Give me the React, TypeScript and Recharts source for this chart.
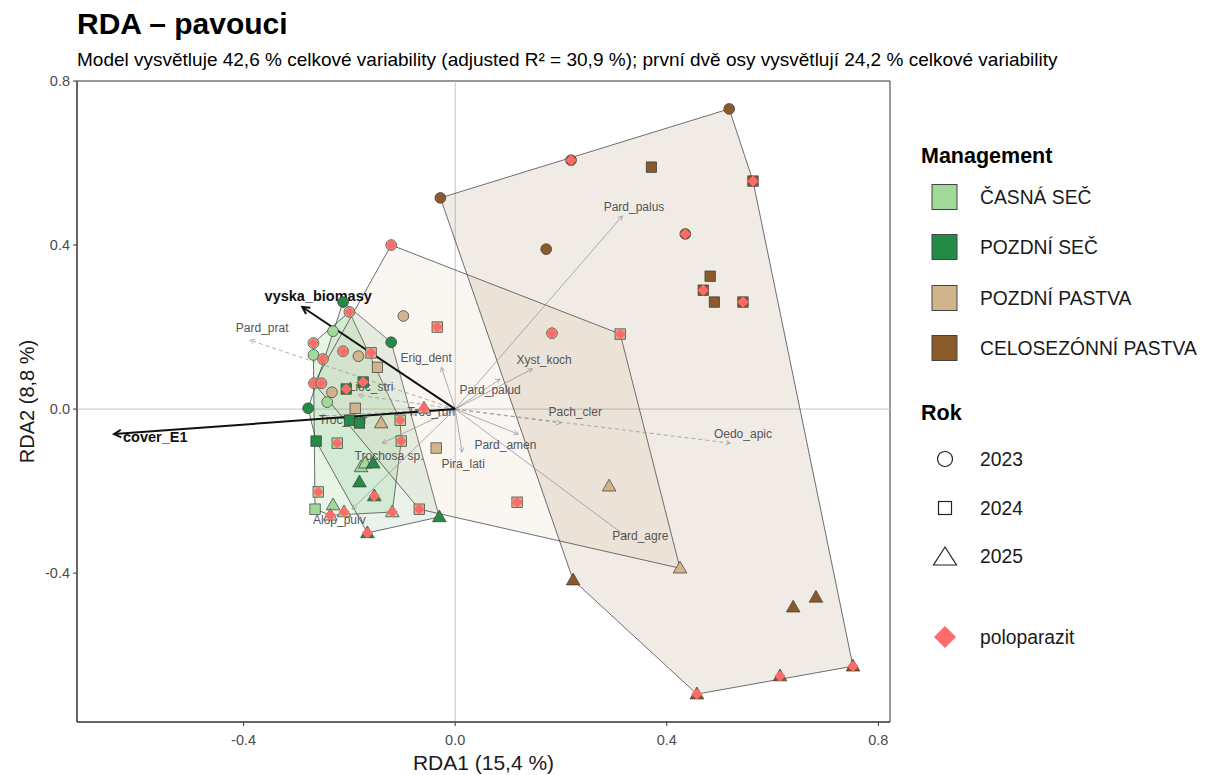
import React from 'react';
import { ScatterChart, Scatter, XAxis, YAxis, ReferenceLine, ReferenceArea } from 'recharts';

const xDomain = [-0.715, 0.822];
const yDomain = [-0.763, 0.8];
const xTicks = [-0.4, 0, 0.4, 0.8];
const yTicks = [-0.4, 0, 0.4, 0.8];

const managementNames = ['ČASNÁ SEČ', 'POZDNÍ SEČ', 'POZDNÍ PASTVA', 'CELOSEZÓNNÍ PASTVA'];
const managementColors = ['#a1d99b', '#238b45', '#d2b48c', '#8b5a2b'];
const hullOpacity = [0.25, 0.1, 0.12, 0.12];
const yearNames = ['2023', '2024', '2025'];
const paraColor = '#ff6b6b';

// plochy: [RDA1, RDA2, rok, poloparazit]
const casnaSec = [
  [-0.231, 0.19, 2023, 0],
  [-0.268, 0.132, 2023, 0],
  [-0.242, 0.017, 2023, 0],
  [-0.2, 0.237, 2023, 1],
  [-0.268, 0.161, 2023, 1],
  [-0.25, 0.122, 2023, 1],
  [-0.265, -0.244, 2024, 0],
  [-0.223, -0.083, 2024, 1],
  [-0.259, -0.202, 2024, 1],
  [-0.102, -0.078, 2024, 1],
  [-0.104, -0.027, 2024, 1],
  [-0.178, -0.141, 2025, 0],
  [-0.17, -0.132, 2025, 0],
  [-0.231, -0.234, 2025, 0],
  [-0.236, -0.259, 2025, 1],
  [-0.21, -0.251, 2025, 1],
  [-0.119, -0.251, 2025, 1],
];

const pozdniSec = [
  [-0.212, 0.261, 2023, 0],
  [-0.121, 0.163, 2023, 0],
  [-0.278, 0.002, 2023, 0],
  [-0.2, -0.027, 2024, 0],
  [-0.181, -0.034, 2024, 0],
  [-0.263, -0.078, 2024, 0],
  [-0.206, 0.049, 2024, 1],
  [-0.174, 0.066, 2024, 1],
  [-0.155, -0.132, 2025, 0],
  [-0.181, -0.178, 2025, 0],
  [-0.03, -0.263, 2025, 0],
  [-0.166, -0.302, 2025, 1],
  [-0.153, -0.212, 2025, 1],
];

const pozdniPastva = [
  [-0.098, 0.227, 2023, 0],
  [-0.183, 0.129, 2023, 0],
  [-0.233, 0.041, 2023, 0],
  [-0.121, 0.4, 2023, 1],
  [0.183, 0.185, 2023, 1],
  [-0.267, 0.063, 2023, 1],
  [-0.253, 0.063, 2023, 1],
  [-0.212, 0.141, 2023, 1],
  [-0.147, 0.102, 2024, 0],
  [-0.189, 0.002, 2024, 0],
  [-0.036, -0.095, 2024, 0],
  [-0.034, 0.2, 2024, 1],
  [0.312, 0.183, 2024, 1],
  [0.117, -0.227, 2024, 1],
  [-0.159, 0.137, 2024, 1],
  [-0.068, -0.244, 2024, 1],
  [-0.14, -0.034, 2025, 0],
  [0.291, -0.188, 2025, 0],
  [0.425, -0.388, 2025, 0],
  [-0.059, 0.002, 2025, 1],
];

const celosezonniPastva = [
  [0.518, 0.732, 2023, 0],
  [-0.028, 0.515, 2023, 0],
  [0.172, 0.39, 2023, 0],
  [0.219, 0.607, 2023, 1],
  [0.435, 0.427, 2023, 1],
  [0.371, 0.59, 2024, 0],
  [0.482, 0.324, 2024, 0],
  [0.49, 0.261, 2024, 0],
  [0.469, 0.29, 2024, 1],
  [0.544, 0.261, 2024, 1],
  [0.563, 0.556, 2024, 1],
  [0.223, -0.417, 2025, 0],
  [0.639, -0.483, 2025, 0],
  [0.682, -0.459, 2025, 0],
  [0.457, -0.695, 2025, 1],
  [0.614, -0.651, 2025, 1],
  [0.752, -0.627, 2025, 1],
];

// druhy: [název, RDA1, RDA2, popisek RDA1, popisek RDA2, čárkovaně]
const speciesScores: [string, number, number, number, number, number][] = [
  ['Pard_palus', 0.316, 0.471, 0.338, 0.493, 0],
  ['Pard_prat', -0.388, 0.168, -0.365, 0.198, 1],
  ['Erig_dent', -0.026, 0.102, -0.055, 0.124, 0],
  ['Xyst_koch', 0.146, 0.098, 0.168, 0.12, 0],
  ['Pard_palud', 0.085, 0.073, 0.066, 0.046, 0],
  ['Pach_cler', 0.2, -0.034, 0.227, -0.007, 1],
  ['Oedo_apic', 0.52, -0.083, 0.544, -0.061, 1],
  ['Pard_amen', 0.119, -0.061, 0.095, -0.088, 0],
  ['Pira_lati', 0.013, -0.105, 0.015, -0.134, 0],
  ['Pard_agre', 0.325, -0.312, 0.35, -0.31, 0],
  ['Trochosa sp.', -0.138, -0.083, -0.125, -0.115, 0],
  ['Alop_pulv', -0.195, -0.244, -0.219, -0.271, 0],
  ['Lioc_stri', -0.183, 0.034, -0.159, 0.054, 1],
  ['Troc_ruri', -0.085, -0.01, -0.045, -0.007, 0],
  ['Troc_terr', -0.255, -0.017, -0.212, -0.027, 1],
];

// proměnné prostředí: [název, RDA1, RDA2, popisek RDA1, popisek RDA2]
const envScores: [string, number, number, number, number][] = [
  ['vyska_biomasy', -0.289, 0.249, -0.259, 0.276],
  ['cover_E1', -0.645, -0.061, -0.567, -0.068],
];

const groups = [casnaSec, pozdniSec, pozdniPastva, celosezonniPastva].map((rows) =>
  rows.map(([x, y, rok, para]) => ({ x, y, rok, para }))
);

type P = { x: number; y: number };
function convexHull(pts: P[]) {
  const p = [...pts].sort((a, b) => a.x - b.x || a.y - b.y);
  const cross = (o: P, a: P, b: P) => (a.x - o.x) * (b.y - o.y) - (a.y - o.y) * (b.x - o.x);
  const lower: P[] = [];
  for (const q of p) {
    while (lower.length >= 2 && cross(lower[lower.length - 2], lower[lower.length - 1], q) <= 0) lower.pop();
    lower.push(q);
  }
  const upper: P[] = [];
  for (const q of [...p].reverse()) {
    while (upper.length >= 2 && cross(upper[upper.length - 2], upper[upper.length - 1], q) <= 0) upper.pop();
    upper.push(q);
  }
  lower.pop();
  upper.pop();
  const h = lower.concat(upper).map((q) => ({ x: q.x, y: q.y }));
  return [...h, h[0]];
}

const hulls = groups.map((g) => convexHull(g));

const font = '"Liberation Sans", Arial, sans-serif';
const none = () => <g />;

const hullLine = (color: string, op: number) => (props: any) => {
  const pts = props.points || [];
  const d = pts.map((q: any, i: number) => `${i ? 'L' : 'M'}${q.x},${q.y}`).join('') + 'Z';
  return <path d={d} fill={color} fillOpacity={op} stroke="#333" strokeWidth={0.7} />;
};

const arrowLine = (color: string, width: number, dashed: boolean, head: number) => (props: any) => {
  const pts = props.points || [];
  if (pts.length < 2) return <g />;
  const a = pts[0];
  const b = pts[1];
  const ang = Math.atan2(b.y - a.y, b.x - a.x);
  const h1x = b.x - head * Math.cos(ang - 0.5);
  const h1y = b.y - head * Math.sin(ang - 0.5);
  const h2x = b.x - head * Math.cos(ang + 0.5);
  const h2y = b.y - head * Math.sin(ang + 0.5);
  return (
    <g>
      <line x1={a.x} y1={a.y} x2={b.x} y2={b.y} stroke={color} strokeWidth={width} strokeDasharray={dashed ? '4 3' : undefined} />
      <path d={`M${h1x},${h1y}L${b.x},${b.y}L${h2x},${h2y}`} fill="none" stroke={color} strokeWidth={width} />
    </g>
  );
};

const siteShape = (color: string) => (props: any) => {
  const { cx, cy, payload } = props;
  const stroke = '#3a3a3a';
  let mark;
  if (payload.rok === 2023) {
    mark = <circle cx={cx} cy={cy} r={5.4} fill={color} stroke={stroke} strokeWidth={0.7} />;
  } else if (payload.rok === 2024) {
    mark = <rect x={cx - 5.2} y={cy - 5.2} width={10.4} height={10.4} fill={color} stroke={stroke} strokeWidth={0.7} />;
  } else {
    mark = <path d={`M${cx},${cy - 7}L${cx + 6.8},${cy + 4.8}L${cx - 6.8},${cy + 4.8}Z`} fill={color} stroke={stroke} strokeWidth={0.7} />;
  }
  return (
    <g>
      {mark}
      {payload.para ? (
        <path d={`M${cx},${cy - 5.6}L${cx + 5.6},${cy}L${cx},${cy + 5.6}L${cx - 5.6},${cy}Z`} fill={paraColor} />
      ) : null}
    </g>
  );
};

const labelShape = (size: number, color: string, weight: string) => (props: any) => (
  <text x={props.cx} y={props.cy} textAnchor="middle" dominantBaseline="central" fontSize={size} fill={color} fontWeight={weight} fontFamily={font}>
    {props.payload.name}
  </text>
);

const speciesLabels = speciesScores.map(([name, , , lx, ly]) => ({ name, x: lx, y: ly }));
const envLabels = envScores.map(([name, , , lx, ly]) => ({ name, x: lx, y: ly }));

const fmt = (v: number) => v.toFixed(1);

export default function App() {
  return (
    <div style={{ position: 'relative', width: 1190, height: 767, fontFamily: font }}>
      <ScatterChart width={1190} height={767} margin={{ top: 73, right: 308, bottom: 3, left: 0 }}>
        <XAxis
          type="number"
          dataKey="x"
          domain={xDomain}
          ticks={xTicks}
          allowDataOverflow
          tickFormatter={fmt}
          height={50}
          tickSize={4}
          tickMargin={9}
          stroke="#333"
          tick={{ fontSize: 14.5, fill: '#4d4d4d', fontFamily: font }}
          label={{ value: 'RDA1 (15,4 %)', position: 'insideBottom', offset: 2, fontSize: 21, fill: '#1a1a1a', fontFamily: font }}
        />
        <YAxis
          type="number"
          dataKey="y"
          domain={yDomain}
          ticks={yTicks}
          allowDataOverflow
          tickFormatter={fmt}
          width={69}
          tickSize={4}
          tickMargin={3}
          stroke="#333"
          tick={{ fontSize: 14.5, fill: '#4d4d4d', fontFamily: font }}
          label={{ value: 'RDA2 (8,8 %)', angle: -90, position: 'insideLeft', offset: 19, fontSize: 20, fill: '#1a1a1a', fontFamily: font, style: { textAnchor: 'middle' } }}
        />
        <ReferenceLine x={0} stroke="#c4c4c4" strokeWidth={1} />
        <ReferenceLine y={0} stroke="#c4c4c4" strokeWidth={1} />
        {hulls.map((h, i) => (
          <Scatter key={'hull' + i} data={h} shape={none} line={hullLine(managementColors[i], hullOpacity[i])} isAnimationActive={false} />
        ))}
        {speciesScores.map(([name, x, y, , , dashed]) => (
          <Scatter
            key={'sp' + name}
            data={[{ x: 0, y: 0 }, { x, y }]}
            shape={none}
            line={arrowLine('#999999', 0.8, dashed === 1, 5)}
            isAnimationActive={false}
          />
        ))}
        <Scatter data={speciesLabels} shape={labelShape(12, '#555555', 'normal')} isAnimationActive={false} />
        {envScores.map(([name, x, y]) => (
          <Scatter
            key={'env' + name}
            data={[{ x: 0, y: 0 }, { x, y }]}
            shape={none}
            line={arrowLine('#111111', 2, false, 8)}
            isAnimationActive={false}
          />
        ))}
        <Scatter data={envLabels} shape={labelShape(14.5, '#111111', 'bold')} isAnimationActive={false} />
        {groups.map((g, i) => (
          <Scatter key={'pts' + i} name={managementNames[i]} data={g} shape={siteShape(managementColors[i])} isAnimationActive={false} />
        ))}
        <ReferenceArea x1={xDomain[0]} x2={xDomain[1]} y1={yDomain[0]} y2={yDomain[1]} fill="none" stroke="#333" strokeWidth={1} />
      </ScatterChart>
      <svg width={1190} height={767} style={{ position: 'absolute', left: 0, top: 0, pointerEvents: 'none' }} fontFamily={font}>
        <text x={69} y={26} fontSize={30} fontWeight="bold" fill="#000">RDA – pavouci</text>
        <text x={69} y={58} fontSize={19} fill="#000">
          Model vysvětluje 42,6 % celkové variability (adjusted R² = 30,9 %); první dvě osy vysvětlují 24,2 % celkové variability
        </text>
        <text x={913} y={148} fontSize={21.5} fontWeight="bold" dominantBaseline="central" fill="#000">Management</text>
        {managementNames.map((n, i) => {
          const cy = [189, 239, 290, 340][i];
          return (
            <g key={n}>
              <rect x={924} y={cy - 12.5} width={25} height={25} fill={managementColors[i]} stroke="#444" strokeWidth={1} />
              <text x={972} y={cy} fontSize={19.3} dominantBaseline="central" fill="#1a1a1a">{n}</text>
            </g>
          );
        })}
        <text x={913} y={405} fontSize={21.5} fontWeight="bold" dominantBaseline="central" fill="#000">Rok</text>
        <circle cx={937} cy={451} r={7.5} fill="none" stroke="#222" strokeWidth={1.2} />
        <rect x={930.5} y={493.5} width={13} height={13} fill="none" stroke="#222" strokeWidth={1.2} />
        <path d="M937,539L948.5,557L925.5,557Z" fill="none" stroke="#222" strokeWidth={1.2} />
        {yearNames.map((n, i) => (
          <text key={n} x={972} y={[451, 500, 548][i]} fontSize={19.3} dominantBaseline="central" fill="#1a1a1a">{n}</text>
        ))}
        <path d="M937,618L948,629L937,640L926,629Z" fill={paraColor} />
        <text x={972} y={629} fontSize={19.3} dominantBaseline="central" fill="#1a1a1a">poloparazit</text>
      </svg>
    </div>
  );
}
